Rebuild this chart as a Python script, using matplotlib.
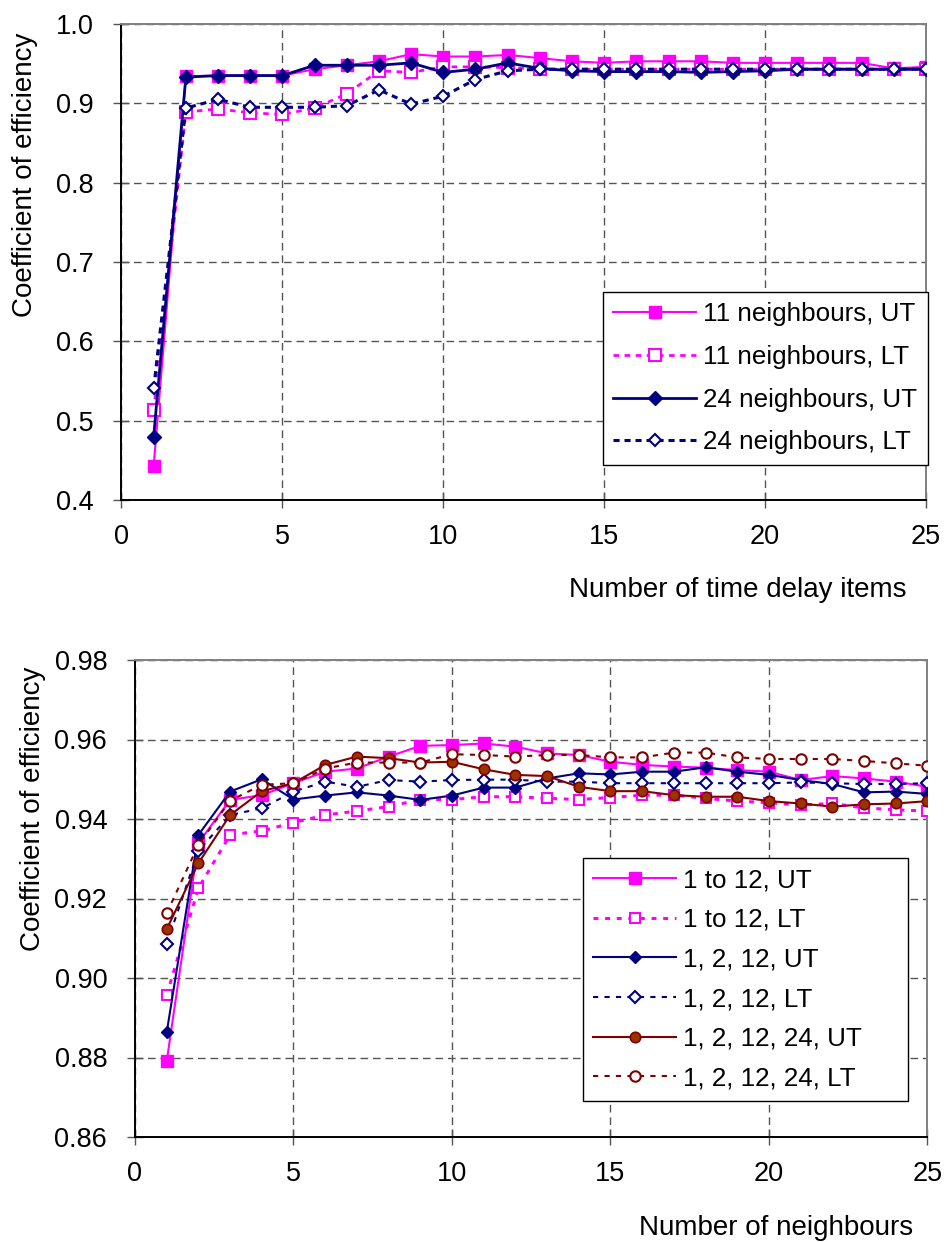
import matplotlib
matplotlib.use("Agg")
import matplotlib.pyplot as plt

plt.rcParams['font.family'] = ['Liberation Sans', 'DejaVu Sans']

# ---------------- data: top chart ----------------
delay_items = list(range(1, 26))
n11_ut = [0.443, 0.934, 0.935, 0.935, 0.935, 0.943, 0.948, 0.953, 0.962, 0.959,
          0.959, 0.961, 0.957, 0.953, 0.951, 0.953, 0.953, 0.953, 0.951, 0.951,
          0.951, 0.951, 0.951, 0.944, 0.946]
n11_lt = [0.513, 0.889, 0.893, 0.888, 0.886, 0.894, 0.912, 0.941, 0.939, 0.946,
          0.946, 0.945, 0.943, 0.943, 0.943, 0.943, 0.943, 0.943, 0.943, 0.943,
          0.943, 0.943, 0.943, 0.943, 0.943]
n24_ut = [0.480, 0.933, 0.935, 0.935, 0.935, 0.948, 0.948, 0.948, 0.951, 0.939,
          0.943, 0.951, 0.944, 0.941, 0.940, 0.940, 0.940, 0.939, 0.940, 0.941,
          0.943, 0.943, 0.943, 0.943, 0.943]
n24_lt = [0.541, 0.894, 0.905, 0.895, 0.895, 0.895, 0.897, 0.917, 0.899, 0.909,
          0.930, 0.941, 0.943, 0.943, 0.943, 0.943, 0.943, 0.943, 0.943, 0.943,
          0.943, 0.943, 0.943, 0.943, 0.943]

# ---------------- data: bottom chart ----------------
neighbours = list(range(1, 26))
s112_ut = [0.879, 0.934, 0.9448, 0.946, 0.949, 0.9519, 0.9527, 0.9557, 0.9584, 0.9586,
           0.9590, 0.9582, 0.9565, 0.9561, 0.9544, 0.9536, 0.9532, 0.9529, 0.9523, 0.9519,
           0.9498, 0.9508, 0.9502, 0.9494, 0.9481]
s112_lt = [0.8957, 0.9226, 0.936, 0.937, 0.9391, 0.941, 0.942, 0.9431, 0.9449, 0.9449,
           0.9456, 0.9456, 0.9452, 0.9449, 0.9454, 0.946, 0.946, 0.9452, 0.9445, 0.9441,
           0.9435, 0.9439, 0.9428, 0.9423, 0.942]
s1212_ut = [0.8863, 0.936, 0.9469, 0.950, 0.9449, 0.9459, 0.9467, 0.9459, 0.9448, 0.9459,
            0.9479, 0.9479, 0.9502, 0.9515, 0.9512, 0.9519, 0.9519, 0.953, 0.9519, 0.9511,
            0.9498, 0.9488, 0.9467, 0.9469, 0.9463]
s1212_lt = [0.9086, 0.932, 0.941, 0.9427, 0.9469, 0.9494, 0.9481, 0.9498, 0.9494, 0.9498,
            0.9499, 0.9499, 0.9494, 0.9494, 0.949, 0.949, 0.949, 0.949, 0.949, 0.949,
            0.9492, 0.949, 0.9488, 0.9488, 0.949]
s121224_ut = [0.9123, 0.9289, 0.941, 0.947, 0.949, 0.9536, 0.9557, 0.9553, 0.9542, 0.9544,
              0.9525, 0.9511, 0.9508, 0.9481, 0.947, 0.947, 0.946, 0.9456, 0.9456, 0.9445,
              0.9439, 0.9431, 0.9437, 0.9439, 0.9445]
s121224_lt = [0.9163, 0.9335, 0.9446, 0.9486, 0.949, 0.9527, 0.9542, 0.9542, 0.9542, 0.9563,
              0.9561, 0.9557, 0.9561, 0.9561, 0.9555, 0.9555, 0.9567, 0.9567, 0.9555, 0.9551,
              0.9551, 0.9551, 0.9546, 0.954, 0.9534]

top_labels = ["11 neighbours, UT", "11 neighbours, LT",
              "24 neighbours, UT", "24 neighbours, LT"]
bottom_labels = ["1 to 12, UT", "1 to 12, LT", "1, 2, 12, UT", "1, 2, 12, LT",
                 "1, 2, 12, 24, UT", "1, 2, 12, 24, LT"]

MAG = '#FF00FF'
NAVY = '#000080'
MAROON = '#800000'
BROWN = '#993300'

W, H = 945, 1242
fig = plt.figure(figsize=(W / 100, H / 100), dpi=100)


def frac_box(l, t, r, b):
    return [l / W, 1 - b / H, (r - l) / W, (b - t) / H]


TICK_FS = 19.5
LEG_FS = 18.7
LAB_FS = 20


def style_axes(ax):
    for s in ['left', 'bottom']:
        ax.spines[s].set_color('black')
        ax.spines[s].set_linewidth(1.4)
    for s in ['top', 'right']:
        ax.spines[s].set_color('#808080')
        ax.spines[s].set_linewidth(1.4)
    ax.grid(True, color='#555555', linestyle=(0, (5.5, 3.5)), linewidth=1.0)
    ax.set_axisbelow(True)
    ax.tick_params(direction='inout', length=12, width=1.0, color='#555555',
                   labelsize=TICK_FS)
    ax.tick_params(axis='x', pad=11)
    ax.tick_params(axis='y', pad=14)


# ---------------- top chart ----------------
ax1 = fig.add_axes(frac_box(121.5, 24, 926, 500))
ax1.plot(delay_items, n11_ut, color=MAG, lw=1.5, marker='s', ms=8.5,
         mfc=MAG, mec=MAG, label=top_labels[0], zorder=3)
ax1.plot(delay_items, n11_lt, color=MAG, lw=2.0, ls=(0, (2, 2)), marker='s', ms=8.5,
         mfc='white', mec=MAG, mew=1.5, label=top_labels[1], zorder=3)
ax1.plot(delay_items, n24_ut, color=NAVY, lw=2.0, marker='D', ms=7,
         mfc=NAVY, mec=NAVY, label=top_labels[2], zorder=4)
ax1.plot(delay_items, n24_lt, color=NAVY, lw=2.2, ls=(0, (2, 1.6)), marker='D', ms=6.5,
         mfc='white', mec=NAVY, mew=1.5, label=top_labels[3], zorder=4)
ax1.set_xlim(0, 25)
ax1.set_ylim(0.4, 1.0)
ax1.set_xticks([0, 5, 10, 15, 20, 25])
yt1 = [0.4, 0.5, 0.6, 0.7, 0.8, 0.9, 1.0]
ax1.set_yticks(yt1)
ax1.set_yticklabels([f"{v:.1f}" for v in yt1])
style_axes(ax1)
leg1 = ax1.legend(loc='upper left', bbox_to_anchor=(603 / W, 1 - 292 / H),
                  bbox_transform=fig.transFigure, fontsize=LEG_FS, frameon=True,
                  fancybox=False, edgecolor='black', framealpha=1,
                  handlelength=3.2, handletextpad=0.25, labelspacing=0.72,
                  borderpad=0.4, borderaxespad=0)
leg1.get_frame().set_linewidth(1.0)

fig.text(25 / W, 1 - 175 / H, "Coefficient of efficiency", rotation=90,
         ha='center', va='center', fontsize=LAB_FS)
fig.text(738 / W, 1 - 590 / H, "Number of time delay items",
         ha='center', va='center', fontsize=LAB_FS)

# ---------------- bottom chart ----------------
ax2 = fig.add_axes(frac_box(135, 660, 927.5, 1137))
ax2.plot(neighbours, s112_ut, color=MAG, lw=1.5, marker='s', ms=8,
         mfc=MAG, mec=MAG, label=bottom_labels[0], zorder=3)
ax2.plot(neighbours, s112_lt, color=MAG, lw=2.2, ls=(0, (1.6, 2.2)), marker='s', ms=7.5,
         mfc='white', mec=MAG, mew=1.5, label=bottom_labels[1], zorder=3)
ax2.plot(neighbours, s1212_ut, color=NAVY, lw=1.5, marker='D', ms=6.5,
         mfc=NAVY, mec=NAVY, label=bottom_labels[2], zorder=4)
ax2.plot(neighbours, s1212_lt, color=NAVY, lw=1.5, ls=(0, (2.5, 3)), marker='D', ms=6.2,
         mfc='white', mec=NAVY, mew=1.5, label=bottom_labels[3], zorder=4)
ax2.plot(neighbours, s121224_ut, color=MAROON, lw=1.5, marker='o', ms=7.5,
         mfc=BROWN, mec=MAROON, mew=1.2, label=bottom_labels[4], zorder=5)
ax2.plot(neighbours, s121224_lt, color=MAROON, lw=1.5, ls=(0, (2.5, 3)), marker='o', ms=7.5,
         mfc='white', mec=MAROON, mew=1.5, label=bottom_labels[5], zorder=5)
ax2.set_xlim(0, 25)
ax2.set_ylim(0.86, 0.98)
ax2.set_xticks([0, 5, 10, 15, 20, 25])
yt2 = [0.86, 0.88, 0.90, 0.92, 0.94, 0.96, 0.98]
ax2.set_yticks(yt2)
ax2.set_yticklabels([f"{v:.2f}" for v in yt2])
style_axes(ax2)
leg2 = ax2.legend(loc='upper left',
                  bbox_to_anchor=(583 / W, 1 - 1099 / H, 325 / W, 241 / H),
                  mode='expand',
                  bbox_transform=fig.transFigure, fontsize=LEG_FS, frameon=True,
                  fancybox=False, edgecolor='black', framealpha=1,
                  handlelength=3.2, handletextpad=0.25, labelspacing=0.6,
                  borderpad=0.4, borderaxespad=0)
leg2.get_frame().set_linewidth(1.0)

fig.text(33 / W, 1 - 809 / H, "Coefficient of efficiency", rotation=90,
         ha='center', va='center', fontsize=LAB_FS)
fig.text(776 / W, 1 - 1228 / H, "Number of neighbours",
         ha='center', va='center', fontsize=LAB_FS)

fig.savefig("out.png", dpi=100)
